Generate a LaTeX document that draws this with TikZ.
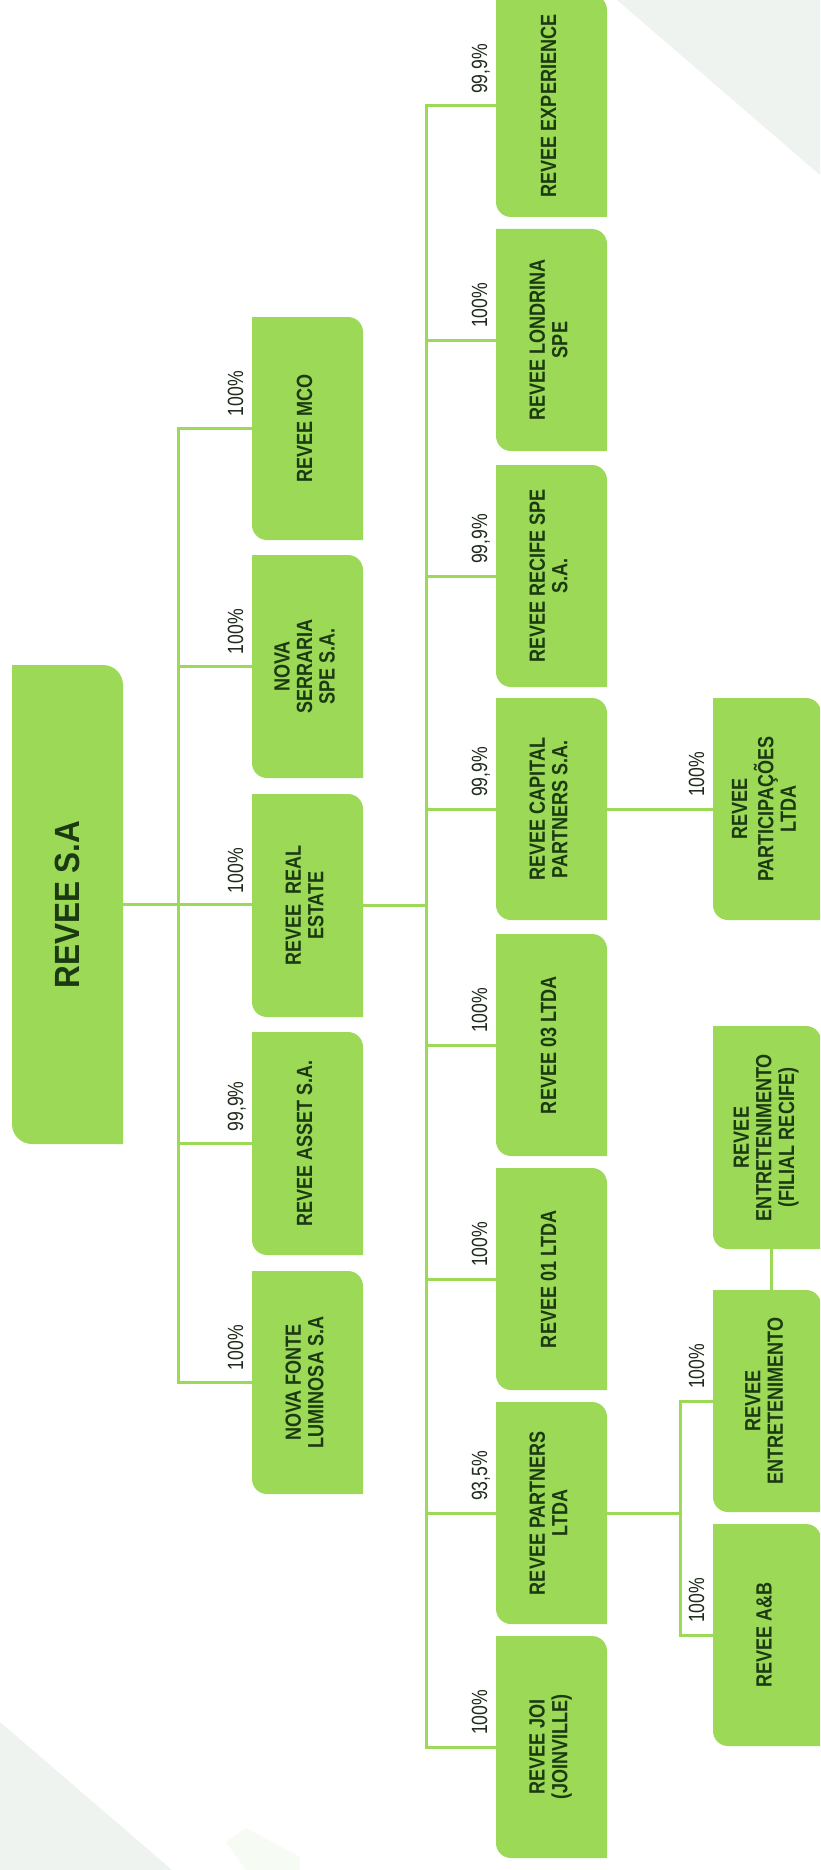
\documentclass[tikz,border=0pt]{standalone}
\usepackage{fontspec}
\usepackage{graphicx}
\newfontfamily\boxfont[FakeStretch=0.82]{Liberation Sans}
\newfontfamily\pctfont[FakeStretch=0.8]{Liberation Sans}
\newfontfamily\titlefont[FakeStretch=0.9]{Liberation Sans}
\definecolor{gfill}{HTML}{9BD957}
\definecolor{gline}{HTML}{9BD957}
\definecolor{gtext}{HTML}{1C3A12}
\definecolor{ptext}{HTML}{1F2B1B}
\definecolor{bgtri}{HTML}{EFF3EF}
\definecolor{bgblob}{HTML}{F6FBF3}
\newcommand\bt[1]{\begin{tabular}{@{}c@{}}#1\end{tabular}}
% #1 name, #2 left, #3 top (pixel), #4 width, #5 height, #6 radius, #7 content
\newcommand\gbox[7]{%
  \fill[gfill] ({#2},{-(#3)}) -- ({#2+#4-#6},{-(#3)}) arc[start angle=90,end angle=0,radius=#6]
    -- ({#2+#4},{-(#3)-#5}) -- ({#2+#6},{-(#3)-#5}) arc[start angle=270,end angle=180,radius=#6] -- cycle;
  \node[boxnode, minimum width=#4pt, minimum height=#5pt, anchor=north west] (#1) at ({#2},{-(#3)}) {\rotatebox{90}{#7}};
}
\newcommand\pct[3]{\node[pctlabel] (#1) at ([xshift=-9pt,yshift=12pt]#2.west) {#3};}
\tikzset{
  boxnode/.style={rectangle, inner sep=0pt, outer sep=0pt, text=gtext,
    font=\boxfont\bfseries\fontsize{22}{22.5}\selectfont},
  pctlabel/.style={rotate=90, anchor=base west, inner sep=0pt, text=ptext,
    font=\pctfont\fontsize{22}{22}\selectfont},
  conn/.style={draw=gline, line width=3pt, line cap=rect}
}
\begin{document}
\begin{tikzpicture}[x=1pt,y=1pt]
\useasboundingbox (0,0) rectangle (820,-1870);
\clip (0,0) rectangle (820,-1870);
\fill[white] (0,0) rectangle (820,-1870);
% background decoration
\fill[bgtri] (617,0) -- (820,0) -- (820,-175) -- cycle;
\fill[bgtri] (0,-1722) -- (0,-1870) -- (172,-1870) -- cycle;
\fill[bgblob] (226,-1842) -- (246,-1828) -- (300,-1857) -- (300,-1870) -- (246,-1870) -- cycle;

% coordinates of the buses
\coordinate (bus1) at (178,0);
\coordinate (bus2) at (426,0);
\coordinate (bus3) at (680,0);

% boxes
\gbox{main}{12}{665}{111}{479}{20}{\titlefont\fontsize{35}{40}\selectfont REVEE S.A}

\gbox{mco}{252}{317}{111}{223}{15}{\bt{REVEE MCO}}
\gbox{serraria}{252}{555}{111}{223}{15}{\bt{NOVA\\SERRARIA\\SPE S.A.}}
\gbox{realestate}{252}{794}{111}{223}{15}{\bt{REVEE\ \ REAL\\ESTATE}}
\gbox{asset}{252}{1032}{111}{223}{15}{\bt{REVEE ASSET S.A.}}
\gbox{fonte}{252}{1271}{111}{223}{15}{\bt{NOVA FONTE\\LUMINOSA S.A}}

\gbox{exp}{496}{-5}{111}{222}{15}{\bt{REVEE EXPERIENCE}}
\gbox{lond}{496}{229}{111}{222}{15}{\bt{REVEE LONDRINA\\SPE}}
\gbox{recife}{496}{465}{111}{222}{15}{\bt{REVEE RECIFE SPE\\S.A.}}
\gbox{capital}{496}{698}{111}{222}{15}{\bt{REVEE CAPITAL\\PARTNERS S.A.}}
\gbox{ltda03}{496}{934}{111}{222}{15}{\bt{REVEE 03 LTDA}}
\gbox{ltda01}{496}{1168}{111}{222}{15}{\bt{REVEE 01 LTDA}}
\gbox{partners}{496}{1402}{111}{222}{15}{\bt{REVEE PARTNERS\\LTDA}}
\gbox{joi}{496}{1636}{111}{222}{15}{\bt{REVEE JOI\\(JOINVILLE)}}

\gbox{part}{713}{698}{108}{222}{15}{\bt{REVEE\\PARTICIPAÇÕES\\LTDA}}
\gbox{filial}{713}{1026}{108}{223}{15}{\bt{REVEE\\ENTRETENIMENTO\\(FILIAL RECIFE)}}
\gbox{ent}{713}{1290}{108}{222}{15}{\bt{REVEE\\ENTRETENIMENTO}}
\gbox{ab}{713}{1524}{108}{222}{15}{\bt{REVEE A\&B}}

% connectors
\draw[conn] (main.east) -- (main.east -| realestate.west);
\draw[conn] (bus1 |- mco.west) -- (bus1 |- fonte.west);
\foreach \c in {mco,serraria,asset,fonte}
  \draw[conn] (bus1 |- \c.west) -- (\c.west);
\draw[conn] (realestate.east) -- (bus2 |- realestate.east);
\draw[conn] (bus2 |- exp.west) -- (bus2 |- joi.west);
\foreach \c in {exp,lond,recife,capital,ltda03,ltda01,partners,joi}
  \draw[conn] (bus2 |- \c.west) -- (\c.west);
\draw[conn] (capital.east) -- (capital.east -| part.west);
\draw[conn] (partners.east) -- (bus3 |- partners.east);
\draw[conn] (bus3 |- ent.west) -- (bus3 |- ab.west);
\draw[conn] (bus3 |- ent.west) -- (ent.west);
\draw[conn] (bus3 |- ab.west) -- (ab.west);
\draw[conn] ([xshift=4pt]filial.south) -- ([xshift=4pt]ent.north);

% percentages
\pct{p-mco}{mco}{100\%}
\pct{p-serraria}{serraria}{100\%}
\pct{p-realestate}{realestate}{100\%}
\pct{p-asset}{asset}{99,9\%}
\pct{p-fonte}{fonte}{100\%}
\pct{p-exp}{exp}{99,9\%}
\pct{p-lond}{lond}{100\%}
\pct{p-recife}{recife}{99,9\%}
\pct{p-capital}{capital}{99,9\%}
\pct{p-ltda03}{ltda03}{100\%}
\pct{p-ltda01}{ltda01}{100\%}
\pct{p-partners}{partners}{93,5\%}
\pct{p-joi}{joi}{100\%}
\pct{p-part}{part}{100\%}
\pct{p-ent}{ent}{100\%}
\pct{p-ab}{ab}{100\%}
\end{tikzpicture}
\end{document}
